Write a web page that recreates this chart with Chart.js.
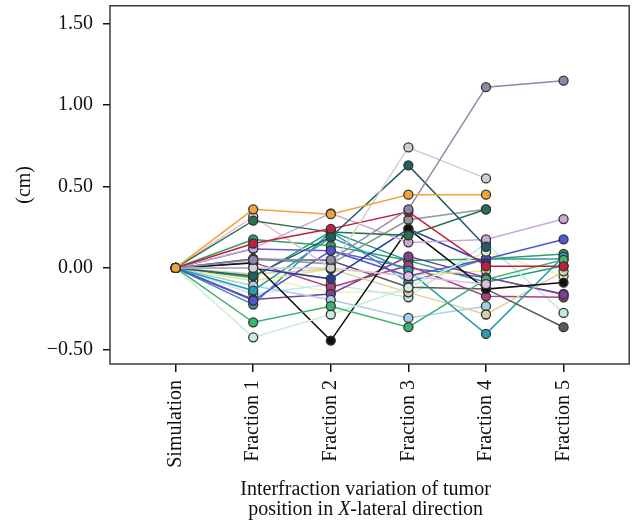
<!DOCTYPE html>
<html>
<head>
<meta charset="utf-8">
<script src="https://cdn.jsdelivr.net/npm/chart.js@4.4.1/dist/chart.umd.min.js"></script>
<style>
  html, body { margin: 0; padding: 0; background: #fff; }
</style>
</head>
<body>
<canvas id="chart" width="635" height="527"></canvas>
<script>
// categories and tick values
const categories = ["Simulation", "Fraction 1", "Fraction 2", "Fraction 3", "Fraction 4", "Fraction 5"];
const yTicks = [-0.5, 0, 0.5, 1, 1.5];
const xTitle = ["Interfraction variation of tumor", "position in ", "X", "-lateral direction"];
const yTitle = "(cm)";

// one row per patient: Simulation, Fraction 1..5 (cm)
const p01 = [0, 0.36, 0.33, 0.45, 0.45, null];
const p02 = [0, 0.05, 0.05, 0.36, 1.11, 1.15];
const p03 = [0, 0.0, 0.0, 0.74, 0.55, null];
const p04 = [0, -0.05, 0.19, 0.63, 0.13, null];
const p05 = [0, 0.15, 0.24, 0.345, 0.01, 0.01];
const p06 = [0, 0.29, 0.22, 0.2, 0.36, null];
const p07 = [0, 0.12, 0.335, 0.157, 0.175, 0.3];
const p08 = [0, 0.315, 0.0, -0.05, -0.1, null];
const p09 = [0, -0.334, -0.235, -0.364, -0.07, 0.05];
const p10 = [0, -0.426, -0.286, -0.12, 0.1, null];
const p11 = [0, 0.03, -0.446, 0.24, -0.13, -0.09];
const p12 = [0, 0.0, -0.067, 0.24, 0.03, null];
const p13 = [0, -0.2, 0.106, -0.05, 0.055, 0.175];
const p14 = [0, 0.055, 0.045, -0.119, -0.129, -0.364];
const p15 = [0, -0.139, 0.188, -0.017, -0.405, 0.07];
const p16 = [0, -0.037, -0.006, -0.15, -0.286, -0.021];
const p17 = [0, -0.109, -0.196, -0.307, -0.235, null];
const p18 = [0, -0.194, -0.16, 0.071, -0.058, -0.164];
const p19 = [0, 0.034, -0.119, 0.014, -0.174, -0.18];
const p20 = [0, -0.078, -0.006, -0.047, -0.017, null];
const p21 = [0, 0.175, 0.137, 0.045, 0.055, 0.086];
const p22 = [0, -0.225, 0.223, -0.088, 0.055, 0.055];
const p23 = [0, -0.16, -0.1, -0.18, 0.15, -0.276];
const p24 = [0, 0.055, 0.025, 0.296, 0.36, null];
const p25 = [0, 0.117, 0.106, 0.0, -0.058, -0.16];
const p26 = [0, -0.06, 0.223, 0.045, -0.088, 0.014];
const p27 = [0, -0.05, -0.15, -0.15, 0.1, -0.05];

const patients = [p01, p02, p03, p04, p05, p06, p07, p08, p09, p10, p11, p12, p13, p14,
  p15, p16, p17, p18, p19, p20, p21, p22, p23, p24, p25, p26, p27];
const colors = ["#f2a33a", "#8c88a8", "#d0d0d0", "#1f5f66", "#c41e3a", "#2f6f4f", "#c9a9d9",
  "#e2bde2", "#3cb371", "#cdeed6", "#111111", "#2b3a9f", "#5055d0", "#5a5a5a", "#2a9db0",
  "#d8d2a0", "#a8cfe8", "#7e3f98", "#b0407f", "#ece67a", "#2fa060", "#3a8fb0", "#bfe8e8",
  "#909898", "#6a5acd", "#20a080", "#f0f0c0"];

const serif = "'Liberation Serif', 'DejaVu Serif', serif";

let datasets = patients.map((vals, i) => ({
  data: vals.map((v, j) => ({ x: j, y: v })),
  borderColor: colors[i],
  backgroundColor: colors[i],
  borderWidth: 1.5,
  pointRadius: 4.5,
  pointBackgroundColor: colors[i],
  pointBorderColor: "#333",
  pointBorderWidth: 1.3,
  tension: 0,
}));

const framePlugin = {
  id: "frame",
  afterDraw(chart) {
    const { ctx, chartArea: a } = chart;
    ctx.save();
    ctx.strokeStyle = "#3a3a3a";
    ctx.lineWidth = 1.5;
    ctx.strokeRect(a.left, a.top, a.right - a.left, a.bottom - a.top);

    // two-line x title, italic X on the second line
    let cx = (a.left + a.right) / 2 - 4;
    ctx.fillStyle = "#111";
    ctx.textBaseline = "alphabetic";
    ctx.textAlign = "center";
    ctx.font = "20px " + serif;
    ctx.fillText(xTitle[0], cx, 495);

    ctx.textAlign = "left";
    let fonts = ["20px " + serif, "italic 20px " + serif, "20px " + serif];
    let parts = xTitle.slice(1);
    let widths = parts.map((t, i) => { ctx.font = fonts[i]; return ctx.measureText(t).width; });
    let x = cx - widths.reduce((s, w) => s + w, 0) / 2;
    parts.forEach((t, i) => {
      ctx.font = fonts[i];
      ctx.fillText(t, x, 515);
      x += widths[i];
    });
    ctx.restore();
  },
};

new Chart(document.getElementById("chart"), {
  type: "line",
  data: { datasets: datasets },
  plugins: [framePlugin],
  options: {
    responsive: false,
    animation: false,
    layout: { padding: { top: 5, right: 3, left: 0, bottom: 0 } },
    plugins: { legend: { display: false }, tooltip: { enabled: false } },
    scales: {
      x: {
        type: "linear",
        min: -0.846,
        max: 5.846,
        afterBuildTicks: (scale) => {
          scale.ticks = categories.map((c, i) => ({ value: i }));
        },
        afterFit: (scale) => {
          scale.height = 163;
          scale.paddingLeft = 0;
          scale.paddingRight = 0;
        },
        grid: { drawOnChartArea: false, drawTicks: true, tickLength: 8, color: "#111", lineWidth: 1.5 },
        border: { display: false },
        ticks: {
          autoSkip: false,
          minRotation: 90,
          maxRotation: 90,
          padding: 8,
          color: "#111",
          font: { family: serif, size: 20 },
          callback: (v) => categories[v],
        },
      },
      y: {
        min: -0.59,
        max: 1.61,
        afterBuildTicks: (scale) => {
          scale.ticks = yTicks.map((v) => ({ value: v }));
        },
        afterFit: (scale) => {
          scale.width = 110;
          scale.paddingTop = 0;
          scale.paddingBottom = 0;
        },
        grid: { drawOnChartArea: false, drawTicks: true, tickLength: 7, color: "#111", lineWidth: 1.5 },
        border: { display: false },
        title: {
          display: true,
          text: yTitle,
          color: "#111",
          font: { family: serif, size: 20 },
          padding: { top: 13, bottom: 0 },
        },
        ticks: {
          padding: 10,
          color: "#111",
          font: { family: serif, size: 20 },
          callback: (v) => (v < 0 ? "\u2212" + Math.abs(v).toFixed(2) : v.toFixed(2)),
        },
      },
    },
  },
});
</script>
</body>
</html>
